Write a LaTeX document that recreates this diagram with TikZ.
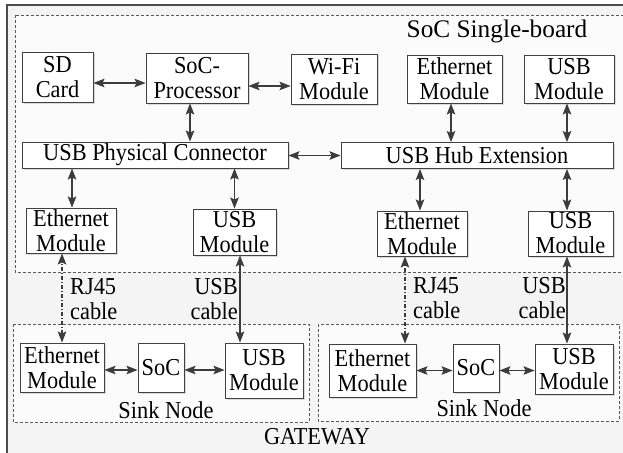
\documentclass[tikz,border=0pt]{standalone}
\usepackage{fontspec}
\setmainfont[FakeStretch=0.92]{Liberation Serif}
\newfontfamily\titlefont{Liberation Serif}
\usetikzlibrary{arrows.meta,shadows,calc}
\definecolor{edge}{HTML}{404040}
\definecolor{arr}{HTML}{3C3C3C}
\tikzset{
  box/.style={draw=edge, line width=0.9pt, fill=white, inner sep=0pt, align=center,
    font=\fontsize{24.3}{25}\selectfont,
    drop shadow={shadow xshift=1.5pt, shadow yshift=-1.5pt, fill=gray!45, opacity=0.6}},
  lbl/.style={inner sep=0pt, align=center, font=\fontsize{24.3}{25}\selectfont},
  grp/.style={draw=gray!70!black, line width=0.8pt, dash pattern=on 3pt off 2pt},
  biarrow/.style={draw=arr, line width=1.1pt, {Stealth[length=11pt,width=8.5pt,inset=2pt]}-{Stealth[length=11pt,width=8.5pt,inset=2pt]}},
  cable/.style={biarrow, dash pattern=on 4pt off 2pt on 1pt off 2pt}
}
\begin{document}
\begin{tikzpicture}[x=1pt,y=-1pt]
\useasboundingbox (0,0) rectangle (623,452);
\clip (0,0) rectangle (623,452);
% outer gateway
\draw[draw=gray!60!black, line width=1.2pt, fill=gray!9] (7,5) rectangle (640,470);
% SoC single-board group
\draw[grp, fill=gray!3] (15,15) rectangle (640,272);
% sink node groups
\draw[grp, fill=gray!3] (13,324) rectangle (309,422);
\draw[grp, fill=gray!3] (318,324) rectangle (619,421);

\node[lbl, font=\titlefont\fontsize{25.3}{28}\selectfont] (title) at (497,31) {SoC Single-board};
\node[lbl] (gw) at (317,437) {GATEWAY};
\node[lbl] (sinkL) at (166,410) {Sink Node};
\node[lbl] (sinkR) at (484,408) {Sink Node};

% top row
\node[box, minimum width=71pt, minimum height=50pt] (sd) at (57.5,77) {SD\\Card};
\node[box, minimum width=102pt, minimum height=50pt] (soc) at (197,78) {SoC-\\Processor};
\node[box, minimum width=86pt, minimum height=50pt] (wifi) at (334,79) {Wi-Fi\\Module};
\node[box, minimum width=95pt, minimum height=48pt] (ethT) at (454.5,79) {Ethernet\\Module};
\node[box, minimum width=90pt, minimum height=48pt] (usbT) at (569,79) {USB\\Module};
% connectors row
\node[box, minimum width=266pt, minimum height=26pt] (phys) at (155,155) {USB Physical Connector};
\node[box, minimum width=272pt, minimum height=26pt] (hub) at (477,155.5) {USB Hub Extension};
% lower row in board
\node[box, minimum width=90pt, minimum height=45pt] (ethL) at (71,230.5) {Ethernet\\Module};
\node[box, minimum width=83pt, minimum height=46pt] (usbL) at (234.5,232) {USB\\Module};
\node[box, minimum width=90pt, minimum height=45pt] (ethR) at (422,233.5) {Ethernet\\Module};
\node[box, minimum width=85pt, minimum height=45pt] (usbR) at (570.5,233.5) {USB\\Module};
% sink nodes
\node[box, minimum width=84pt, minimum height=49pt] (sEthL) at (62,367.5) {Ethernet\\Module};
\node[box, minimum width=46pt, minimum height=49pt] (sSocL) at (161,367.5) {SoC};
\node[box, minimum width=78pt, minimum height=55pt] (sUsbL) at (264,370.5) {USB\\Module};
\node[box, minimum width=87pt, minimum height=53pt] (sEthR) at (372.5,370.5) {Ethernet\\Module};
\node[box, minimum width=46pt, minimum height=48pt] (sSocR) at (476,368) {SoC};
\node[box, minimum width=78pt, minimum height=50pt] (sUsbR) at (574,369) {USB\\Module};

% cable labels
\node[lbl, anchor=west, align=left] (rjL) at (70,299.5) {RJ45\\cable};
\node[lbl, anchor=east, align=right] (ucL) at (238,299.5) {USB\\cable};
\node[lbl, anchor=west, align=left] (rjR) at (413,298.5) {RJ45\\cable};
\node[lbl, anchor=east, align=right] (ucR) at (566,298.5) {USB\\cable};

% arrows
\draw[biarrow] ($(sd.east)+(0,6)$) -- ($(sd.east -| soc.west)+(0,6)$);
\draw[biarrow] ($(soc.east)+(0,8)$) -- ($(soc.east -| wifi.west)+(0,8)$);
\draw[biarrow] ($(soc.south)+(-7,0)$) -- ($(soc.south |- phys.north)+(-7,0)$);
\draw[biarrow] (hub.west) -- (hub.west -| phys.east);
\draw[biarrow] ($(ethT.south)+(-3.5,0)$) -- ($(ethT.south |- hub.north)+(-3.5,0)$);
\draw[biarrow] ($(usbT.south)+(-2,0)$) -- ($(usbT.south |- hub.north)+(-2,0)$);
\draw[biarrow] ($(ethL.north)+(1,0)$) -- ($(ethL.north |- phys.south)+(1,0)$);
\draw[biarrow] (usbL.north) -- (usbL.north |- phys.south);
\draw[biarrow] ($(ethR.north)+(-2,0)$) -- ($(ethR.north |- hub.south)+(-2,0)$);
\draw[biarrow] ($(usbR.north)+(-3.5,0)$) -- ($(usbR.north |- hub.south)+(-3.5,0)$);
% sink internal
\draw[biarrow] ($(sEthL.east)+(0,2.5)$) -- ($(sEthL.east -| sSocL.west)+(0,2.5)$);
\draw[biarrow] ($(sSocL.east)+(0,2.5)$) -- ($(sSocL.east -| sUsbL.west)+(0,2.5)$);
\draw[biarrow] (sEthR.east) -- (sEthR.east -| sSocR.west);
\draw[biarrow] ($(sSocR.east)+(0,2.5)$) -- ($(sSocR.east -| sUsbR.west)+(0,2.5)$);
% cables
\draw[cable] (sEthL.north) -- (sEthL.north |- ethL.south);
\draw[biarrow] ($(sUsbL.north)+(-24,0)$) -- ($(sUsbL.north |- usbL.south)+(-24,0)$);
\draw[cable] ($(sEthR.north)+(32.5,0)$) -- ($(sEthR.north |- ethR.south)+(32.5,0)$);
\draw[biarrow] ($(sUsbR.north)+(-7,0)$) -- ($(sUsbR.north |- usbR.south)+(-7,0)$);
\end{tikzpicture}
\end{document}
